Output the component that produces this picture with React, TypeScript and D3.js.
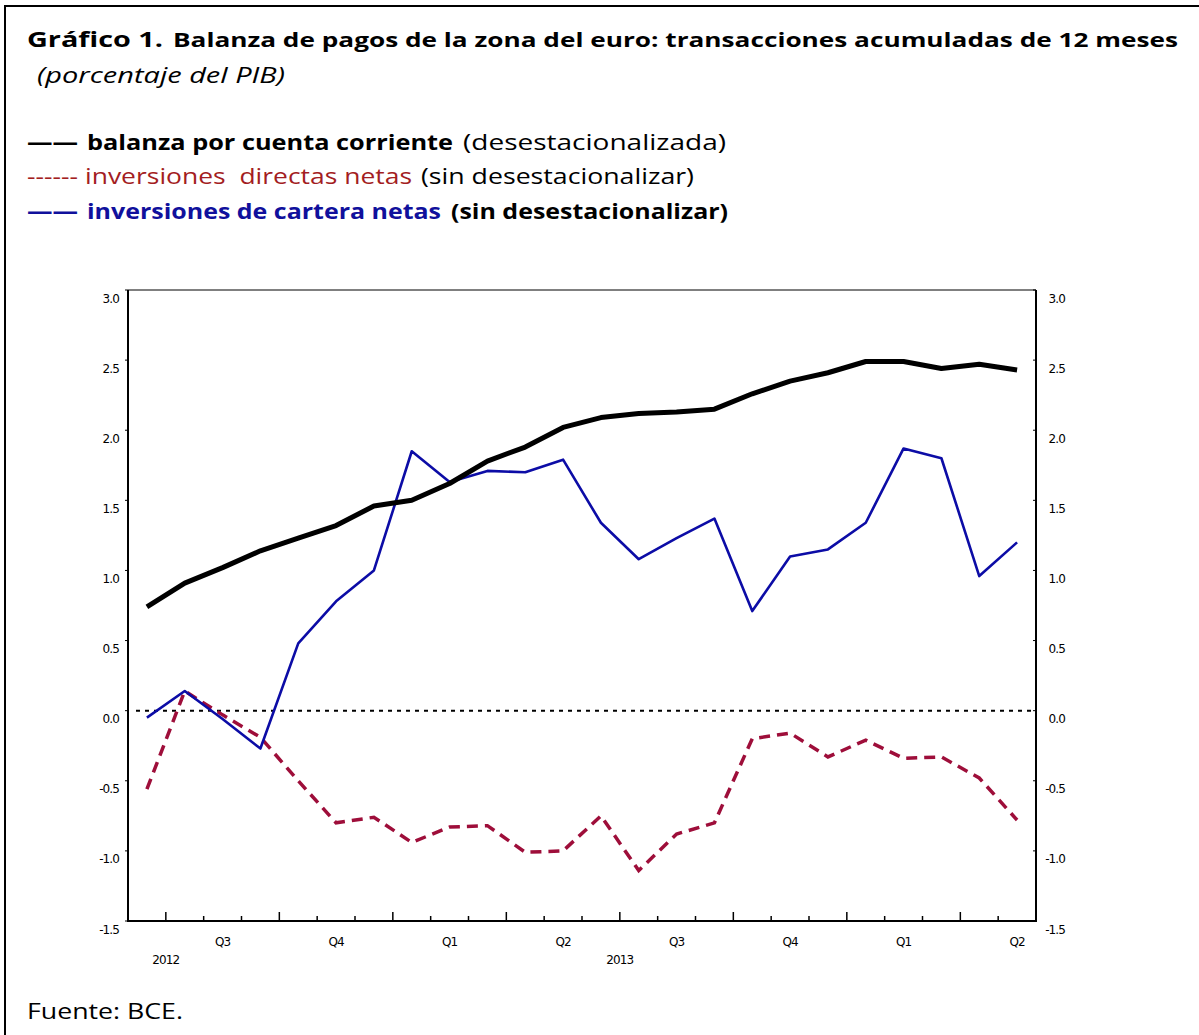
import React from "react";
import * as d3 from "d3";

// ---- data (June 2012 .. May 2014, monthly) ----
const months = [
  "2012-06", "2012-07", "2012-08", "2012-09", "2012-10", "2012-11", "2012-12",
  "2013-01", "2013-02", "2013-03", "2013-04", "2013-05", "2013-06", "2013-07",
  "2013-08", "2013-09", "2013-10", "2013-11", "2013-12", "2014-01", "2014-02",
  "2014-03", "2014-04", "2014-05",
];
const currentAccount = [
  0.74, 0.91, 1.02, 1.14, 1.23, 1.32, 1.46, 1.5, 1.62, 1.78, 1.88, 2.02, 2.09,
  2.12, 2.13, 2.15, 2.26, 2.35, 2.41, 2.49, 2.49, 2.44, 2.47, 2.43,
];
const directInvestment = [
  -0.56, 0.14, -0.03, -0.19, -0.5, -0.8, -0.76, -0.94, -0.83, -0.82, -1.01,
  -1.0, -0.75, -1.14, -0.88, -0.8, -0.2, -0.16, -0.33, -0.21, -0.34, -0.33,
  -0.48, -0.78,
];
const portfolioInvestment = [
  -0.05, 0.14, -0.06, -0.27, 0.48, 0.78, 1.0, 1.85, 1.63, 1.71, 1.7, 1.79, 1.34,
  1.08, 1.23, 1.37, 0.71, 1.1, 1.15, 1.34, 1.87, 1.8, 0.96, 1.2,
];
const yTicks = [3.0, 2.5, 2.0, 1.5, 1.0, 0.5, 0.0, -0.5, -1.0, -1.5];
const quarterLabels = ["Q3", "Q4", "Q1", "Q2", "Q3", "Q4", "Q1", "Q2"];
const quarterCenters = [2, 5, 8, 11, 14, 17, 20, 23];
const yearLabels = ["2012", "2013"];
const yearCenters = [0.5, 12.5];

const FONT = "'Open Sans', 'Noto Sans', sans-serif";
const TICK_FONT = "'DejaVu Sans', Verdana, sans-serif";

const BLACK = "#000000";
const RED = "#9e0e3a";
const BLUE = "#0c0ca6";
const RED_TEXT = "#a31d22";
const BLUE_TEXT = "#10109c";

type Seg = { t: string; x: number; end: number; w: number; c: string; s?: number; it?: boolean };

function Line({ y, segs, size }: { y: number; segs: Seg[]; size: number }) {
  return (
    <>
      {segs.map((s, i) => (
        <text
          key={i}
          x={s.x}
          y={y}
          fontFamily={FONT}
          fontSize={s.s ?? size}
          fontWeight={s.w}
          fontStyle={s.it ? "italic" : "normal"}
          fill={s.c}
          textLength={s.end - s.x}
          lengthAdjust="spacingAndGlyphs"
          style={{ whiteSpace: "pre" }}
        >
          {s.t}
        </text>
      ))}
    </>
  );
}

function TickText({ x, y, anchor, children }: { x: number; y: number; anchor: string; children: React.ReactNode }) {
  return (
    <text
      x={x}
      y={y}
      dominantBaseline="middle"
      textAnchor={anchor}
      fontFamily={TICK_FONT}
      fontSize={12}
      letterSpacing={-0.9}
      fill="#000"
    >
      {children}
    </text>
  );
}

export default function App() {
  const W = 1199;
  const H = 1035;
  const left = 128;
  const right = 1036;
  const top = 290;
  const bottom = 921;

  const x = d3.scaleLinear().domain([-0.5, months.length - 0.5]).range([left, right]);
  const y = d3.scaleLinear().domain([-1.5, 3.0]).range([bottom, top]);

  const line = d3
    .line<number>()
    .x((_, i) => x(i))
    .y((d) => y(d));

  const monthBounds = d3.range(0.5, months.length - 0.5, 1);

  return (
    <svg
      width={W}
      height={H}
      style={{ position: "absolute", left: 0, top: 0, background: "#fff" }}
    >
      <rect x={0} y={0} width={W} height={H} fill="#fff" />
      <rect x={5} y={6} width={1300} height={1200} fill="#fff" stroke="#000" strokeWidth={2} />

      {/* Title */}
      <Line
        y={47}
        size={20}
        segs={[
          { t: "Gráfico 1.", x: 27, end: 163, w: 700, c: "#000", s: 21 },
          {
            t: "Balanza de pagos de la zona del euro: transacciones acumuladas de 12 meses",
            x: 173,
            end: 1178,
            w: 700,
            c: "#000",
            s: 19,
          },
        ]}
      />
      <Line
        y={83}
        size={21}
        segs={[{ t: "(porcentaje del PIB)", x: 37, end: 285, w: 400, c: "#000", it: true }]}
      />

      {/* Legend */}
      <Line
        y={150}
        size={22}
        segs={[
          { t: "——", x: 27, end: 78, w: 700, c: BLACK },
          { t: "balanza por cuenta corriente", x: 87, end: 453, w: 700, c: BLACK },
          { t: "(desestacionalizada)", x: 463, end: 726, w: 400, c: BLACK },
        ]}
      />
      <Line
        y={184}
        size={22}
        segs={[
          { t: "------", x: 27, end: 78, w: 400, c: RED_TEXT },
          { t: "inversiones  directas netas", x: 85, end: 412, w: 400, c: RED_TEXT },
          { t: "(sin desestacionalizar)", x: 421, end: 694, w: 400, c: BLACK },
        ]}
      />
      <Line
        y={219}
        size={22}
        segs={[
          { t: "——", x: 27, end: 78, w: 700, c: BLUE_TEXT },
          { t: "inversiones de cartera netas", x: 87, end: 441, w: 700, c: BLUE_TEXT },
          { t: "(sin desestacionalizar)", x: 451, end: 728, w: 700, c: BLACK },
        ]}
      />

      {/* Plot frame */}
      <line x1={left} x2={right} y1={top} y2={top} stroke="#000" strokeWidth={1} />
      <line x1={left} x2={left} y1={top} y2={bottom + 1} stroke="#000" strokeWidth={2} />
      <line x1={right} x2={right} y1={top} y2={bottom + 1} stroke="#000" strokeWidth={2} />
      <line x1={left - 1} x2={right + 1} y1={bottom} y2={bottom} stroke="#000" strokeWidth={2} />

      {/* Y ticks & labels */}
      {yTicks.map((v) => (
        <g key={v}>
          <line x1={left - 3} x2={left} y1={y(v)} y2={y(v)} stroke="#000" strokeWidth={1} />
          <line x1={right - 3} x2={right} y1={y(v)} y2={y(v)} stroke="#000" strokeWidth={1} />
          <TickText x={119} y={y(v) + 9} anchor="end">{v.toFixed(1)}</TickText>
          <TickText x={1065} y={y(v) + 9} anchor="end">{v.toFixed(1)}</TickText>
        </g>
      ))}

      {/* X ticks */}
      {monthBounds.map((b) => {
        const major = (b - 0.5) % 3 === 0;
        return (
          <line
            key={b}
            x1={x(b)}
            x2={x(b)}
            y1={bottom}
            y2={bottom - (major ? 9 : 5)}
            stroke="#000"
            strokeWidth={1.5}
          />
        );
      })}
      {quarterLabels.map((q, i) => (
        <TickText key={i} x={x(quarterCenters[i])} y={942} anchor="middle">{q}</TickText>
      ))}
      {yearLabels.map((yr, i) => (
        <TickText key={yr} x={x(yearCenters[i])} y={960} anchor="middle">{yr}</TickText>
      ))}

      {/* Zero line */}
      <line
        x1={left + 8}
        x2={right}
        y1={y(0)}
        y2={y(0)}
        stroke="#000"
        strokeWidth={2}
        strokeDasharray="4,5"
      />

      {/* Series */}
      <path d={line(directInvestment) ?? ""} fill="none" stroke={RED} strokeWidth={3.5} strokeDasharray="11,7" />
      <path d={line(portfolioInvestment) ?? ""} fill="none" stroke={BLUE} strokeWidth={2.6} strokeLinejoin="round" />
      <path d={line(currentAccount) ?? ""} fill="none" stroke={BLACK} strokeWidth={5} strokeLinejoin="round" />

      {/* Source */}
      <Line
        y={1019}
        size={22}
        segs={[{ t: "Fuente: BCE.", x: 27, end: 183, w: 400, c: "#000" }]}
      />
    </svg>
  );
}
